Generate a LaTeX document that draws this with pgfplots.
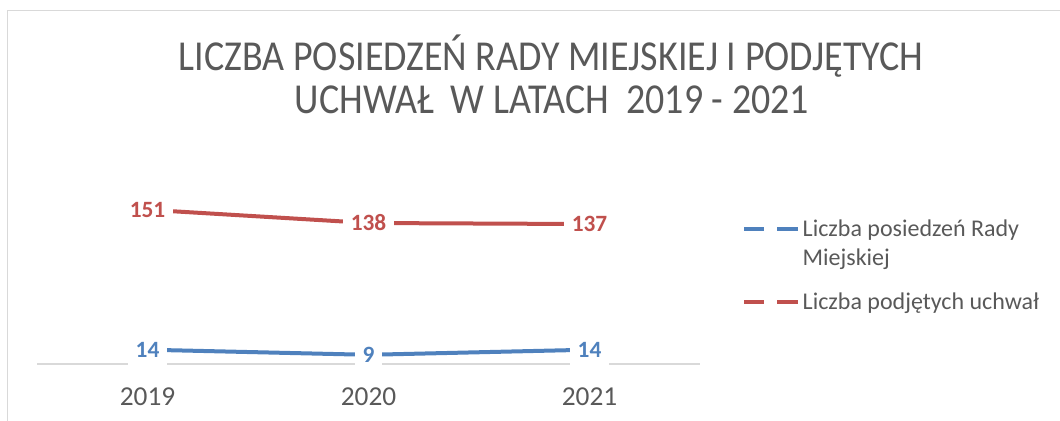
\documentclass[border=0pt]{standalone}
\usepackage{pgfplots}
\pgfplotsset{compat=1.18}
\usepackage{fontspec}
\setmainfont{Carlito}
\definecolor{serblue}{HTML}{4F81BD}
\definecolor{serred}{HTML}{C0504D}
\definecolor{txt}{HTML}{595959}
\definecolor{gridc}{HTML}{D9D9D9}
\pgfplotsset{
  legtwo/.style={legend image code/.code={\draw[##1] (0pt,27.25pt) -- (15pt,27.25pt) (24.75pt,27.25pt) -- (40.5pt,27.25pt);}},
  legone/.style={legend image code/.code={\draw[##1] (0pt,5.5pt) -- (15pt,5.5pt) (24.75pt,5.5pt) -- (40.5pt,5.5pt);}},
}
\begin{document}
\begin{tikzpicture}
\begin{scope}[x=0.75pt,y=-0.75pt]
\useasboundingbox (0,0) rectangle (1060,421);
\draw[gridc, line width=1.2pt] (7.5,421) -- (7.5,10.5) -- (1060,10.5);
\node[text=txt, font=\fontsize{32}{38}\selectfont, anchor=base, inner sep=0pt] at (551,70) {\scalebox{0.89}[1]{LICZBA POSIEDZEŃ RADY MIEJSKIEJ I PODJĘTYCH}};
\node[text=txt, font=\fontsize{32}{38}\selectfont, anchor=base, inner sep=0pt] at (552,113) {\scalebox{0.89}[1]{UCHWAŁ\ \ W LATACH\ \ 2019 - 2021}};
\end{scope}
\begin{axis}[
  at={(27.75pt,-273pt)}, anchor=south west,
  scale only axis, width=497.25pt, height=122.6pt,
  xmin=-0.5, xmax=2.5, ymin=0, ymax=160,
  xtick={0,1,2}, xticklabels={2019,2020,2021},
  hide y axis, axis x line*=bottom,
  x axis line style={gridc, line width=1.1pt},
  major tick length=0pt, xtick style={draw=none},
  xticklabel style={anchor=base, yshift=-30.75pt, font=\fontsize{20.5}{24}\selectfont, text=txt},
  clip=false,
  /pgf/number format/assume math mode=true,
  nodes near coords,
  every node near coord/.append style={anchor=center, fill=white, font=\bfseries\fontsize{17.5}{20}\selectfont, inner xsep=5.5pt, inner ysep=6pt},
  legend style={at={(rel axis cs:1.063,0.899)}, anchor=north west, draw=none, fill=none, inner sep=0pt,
    font=\fontsize{18}{21.75}\selectfont, text=txt, row sep=15pt, column sep=0pt,
    cells={anchor=base west, align=left, inner xsep=2pt}},
]
\addplot[serblue, line width=3pt, line join=round, legtwo,
  every node near coord/.append style={text=serblue}]
  coordinates {(0,14) (1,9) (2,14)};
\addlegendentry{Liczba posiedzeń Rady\\Miejskiej}
\addplot[serred, line width=3pt, line join=round, legone,
  every node near coord/.append style={text=serred}]
  coordinates {(0,151) (1,138) (2,137)};
\addlegendentry{Liczba podjętych uchwał}
\end{axis}
\end{tikzpicture}
\end{document}
